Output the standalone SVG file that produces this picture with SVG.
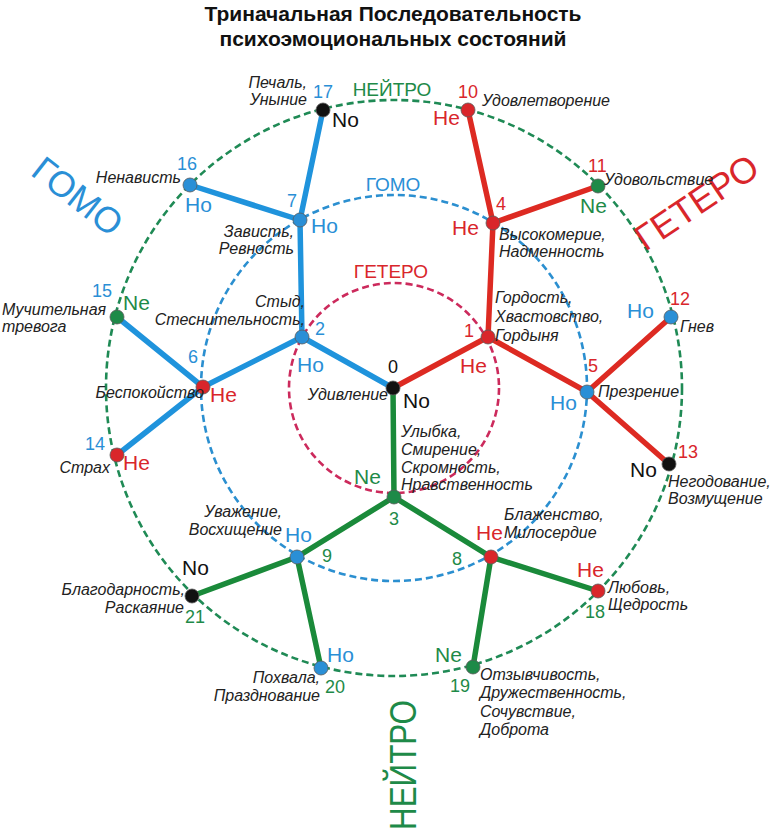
<svg xmlns="http://www.w3.org/2000/svg" width="780" height="831" viewBox="0 0 780 831">
<style>
text{font-family:"Liberation Sans",Arial,sans-serif}
.t{font-size:21px;font-weight:bold;fill:#111}
.it{font-size:16px;font-style:italic;fill:#222}
.num{font-size:18px}
.ty{font-size:21px}
.r{fill:#d9262b}.b{fill:#2a8fd6}.g{fill:#1e8a48}.k{fill:#111}
.ring{fill:none;stroke-width:2.6;stroke-dasharray:7 4}
.nd{stroke:#5a5a5a;stroke-width:0.8}
.e{fill:none;stroke-width:5.5;stroke-linecap:round}
.er{stroke:#dd2a22}.eb{stroke:#1f93dc}.eg{stroke:#1a8a3a}
.big{font-size:36px}
.rl{font-size:19px}
</style>
<g id="title">
<text class="t" x="393" y="21" text-anchor="middle">Триначальная Последовательность</text>
<text class="t" x="393" y="46" text-anchor="middle">психоэмоциональных состояний</text>
</g>
<g id="rings">
<circle class="ring" cx="394" cy="388" r="288" stroke="#1f8a55"/>
<circle class="ring" cx="394" cy="388" r="193" stroke="#2b8fd0"/>
<circle class="ring" cx="394" cy="388" r="105" stroke="#cc2a5c"/>
<text class="rl g" x="392" y="96" text-anchor="middle">НЕЙТРО</text>
<text class="rl b" x="393" y="191" text-anchor="middle">ГОМО</text>
<text class="rl r" x="391" y="278" text-anchor="middle">ГЕТЕРО</text>
</g>
<g id="sector-labels">
<text class="big b" transform="translate(78,196) rotate(38)" text-anchor="middle" dy="0.36em">ГОМО</text>
<text class="big r" transform="translate(696,202) rotate(-34)" text-anchor="middle" dy="0.36em">ГЕТЕРО</text>
<text class="big g" transform="translate(403,765) rotate(-90)" text-anchor="middle" dy="0.36em" textLength="130" lengthAdjust="spacingAndGlyphs">НЕЙТРО</text>
</g>
<g id="connectors">
<path class="e er" d="M393,388 L488,337 L493,223 L468,110 M493,223 L598,186 M488,337 L587,392 L671,317 M587,392 L669,464"/>
<path class="e eb" d="M393,388 L302,337 L300,220 L323,110 M300,220 L190,185 M302,337 L203,387 L117,317 M203,387 L117,455"/>
<path class="e eg" d="M393,388 L394,497 L491,557 L598,591 M491,557 L473,667 M394,497 L297,557 L321,668 M297,557 L192,596"/>
</g>
<g id="n0"><circle class="nd k" cx="393" cy="388" r="7"/><text class="num k" x="393" y="373" text-anchor="middle">0</text><text class="ty k" x="403" y="408">No</text><text class="it" x="388" y="400" text-anchor="end">Удивление</text></g>
<g id="n1"><circle class="nd r" cx="488" cy="337" r="7"/><text class="num r" x="464" y="337">1</text><text class="ty r" x="460" y="373">He</text><text class="it" x="495"><tspan y="303">Гордость,</tspan><tspan x="495" y="322">Хвастовство,</tspan><tspan x="495" y="341">Гордыня</tspan></text></g>
<g id="n2"><circle class="nd b" cx="302" cy="337" r="7"/><text class="num b" x="315" y="335">2</text><text class="ty b" x="297" y="372">Ho</text><text class="it" text-anchor="end"><tspan x="305" y="307">Стыд,</tspan><tspan x="305" y="325">Стеснительность,</tspan></text></g>
<g id="n3"><circle class="nd g" cx="394" cy="497" r="7"/><text class="num g" x="394" y="525" text-anchor="middle">3</text><text class="ty g" x="354" y="484">Ne</text><text class="it"><tspan x="401" y="437">Улыбка,</tspan><tspan x="401" y="455">Смирение,</tspan><tspan x="401" y="473">Скромность,</tspan><tspan x="401" y="490">Нравственность</tspan></text></g>
<g id="n4"><circle class="nd r" cx="493" cy="223" r="7"/><text class="num r" x="496" y="210">4</text><text class="ty r" x="452" y="235">He</text><text class="it"><tspan x="499" y="240">Высокомерие,</tspan><tspan x="499" y="257">Надменность</tspan></text></g>
<g id="n5"><circle class="nd b" cx="587" cy="392" r="7"/><text class="num r" x="588" y="372">5</text><text class="ty b" x="550" y="410">Ho</text><text class="it" x="598" y="397">Презрение</text></g>
<g id="n6"><circle class="nd r" cx="203" cy="387" r="7"/><text class="num b" x="188" y="363">6</text><text class="ty r" x="210" y="402">He</text><text class="it" x="204" y="398" text-anchor="end">Беспокойство</text></g>
<g id="n7"><circle class="nd b" cx="300" cy="220" r="7"/><text class="num b" x="287" y="207">7</text><text class="ty b" x="311" y="233">Ho</text><text class="it" text-anchor="end"><tspan x="294" y="237">Зависть,</tspan><tspan x="294" y="254">Ревность</tspan></text></g>
<g id="n8"><circle class="nd r" cx="491" cy="557" r="7"/><text class="num g" x="452" y="565">8</text><text class="ty r" x="476" y="540">He</text><text class="it"><tspan x="504" y="520">Блаженство,</tspan><tspan x="504" y="538">Милосердие</tspan></text></g>
<g id="n9"><circle class="nd b" cx="297" cy="557" r="7"/><text class="num g" x="322" y="562">9</text><text class="ty b" x="285" y="542">Ho</text><text class="it" text-anchor="end"><tspan x="282" y="517">Уважение,</tspan><tspan x="282" y="535">Восхищение</tspan></text></g>
<g id="n10"><circle class="nd r" cx="468" cy="110" r="7"/><text class="num r" x="458" y="98">10</text><text class="ty r" x="433" y="125">He</text><text class="it" x="482" y="106">Удовлетворение</text></g>
<g id="n11"><circle class="nd g" cx="598" cy="186" r="7"/><text class="num r" x="588" y="172">11</text><text class="ty g" x="580" y="213">Ne</text><text class="it" x="604" y="185">Удовольствие</text></g>
<g id="n12"><circle class="nd b" cx="671" cy="317" r="7"/><text class="num r" x="670" y="305">12</text><text class="ty b" x="627" y="318">Ho</text><text class="it" x="680" y="332">Гнев</text></g>
<g id="n13"><circle class="nd k" cx="669" cy="464" r="7"/><text class="num r" x="678" y="458">13</text><text class="ty k" x="630" y="477">No</text><text class="it"><tspan x="668" y="487">Негодование,</tspan><tspan x="668" y="504">Возмущение</tspan></text></g>
<g id="n14"><circle class="nd r" cx="117" cy="455" r="7"/><text class="num b" x="85" y="450">14</text><text class="ty r" x="123" y="470">He</text><text class="it" x="110" y="473" text-anchor="end">Страх</text></g>
<g id="n15"><circle class="nd g" cx="117" cy="317" r="7"/><text class="num b" x="92" y="297">15</text><text class="ty g" x="123" y="310">Ne</text><text class="it"><tspan x="2" y="315">Мучительная</tspan><tspan x="2" y="332">тревога</tspan></text></g>
<g id="n16"><circle class="nd b" cx="190" cy="185" r="7"/><text class="num b" x="177" y="170">16</text><text class="ty b" x="185" y="212">Ho</text><text class="it" x="181" y="183" text-anchor="end">Ненависть</text></g>
<g id="n17"><circle class="nd k" cx="323" cy="110" r="7"/><text class="num b" x="313" y="98">17</text><text class="ty k" x="332" y="127">No</text><text class="it" text-anchor="end"><tspan x="307" y="88">Печаль,</tspan><tspan x="307" y="105">Уныние</tspan></text></g>
<g id="n18"><circle class="nd r" cx="598" cy="591" r="7"/><text class="num g" x="585" y="618">18</text><text class="ty r" x="577" y="577">He</text><text class="it"><tspan x="608" y="593">Любовь,</tspan><tspan x="608" y="610">Щедрость</tspan></text></g>
<g id="n19"><circle class="nd g" cx="473" cy="667" r="7"/><text class="num g" x="450" y="692">19</text><text class="ty g" x="435" y="662">Ne</text><text class="it"><tspan x="480" y="680">Отзывчивость,</tspan><tspan x="480" y="698">Дружественность,</tspan><tspan x="480" y="717">Сочувствие,</tspan><tspan x="480" y="735">Доброта</tspan></text></g>
<g id="n20"><circle class="nd b" cx="321" cy="668" r="7"/><text class="num g" x="325" y="693">20</text><text class="ty b" x="327" y="662">Ho</text><text class="it" text-anchor="end"><tspan x="320" y="683">Похвала,</tspan><tspan x="320" y="701">Празднование</tspan></text></g>
<g id="n21"><circle class="nd k" cx="192" cy="596" r="7"/><text class="num g" x="185" y="623">21</text><text class="ty k" x="182" y="575">No</text><text class="it" text-anchor="end"><tspan x="185" y="595">Благодарность,</tspan><tspan x="184" y="613">Раскаяние</tspan></text></g>
</svg>
